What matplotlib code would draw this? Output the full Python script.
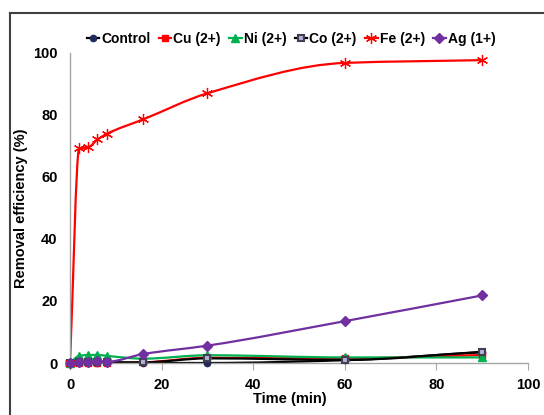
import numpy as np
import matplotlib
matplotlib.use("Agg")
import matplotlib.pyplot as plt
from matplotlib.path import Path
from matplotlib.patches import PathPatch
from matplotlib.lines import Line2D

plt.rcParams['font.family'] = ['Liberation Sans', 'DejaVu Sans']
plt.rcParams['font.weight'] = 'bold'

# ---- data ----
time = [0, 2, 4, 6, 8, 16, 30, 60, 90]
control = [0, 0, 0, 0, 0, 0, 0, 0.9, 3.5]
cu = [0, 0, 0, 0, 0, 0.2, 1.7, 1.5, 2.6]
ni = [0, 2.3, 2.6, 2.6, 2.3, 1.4, 2.5, 1.8, 1.8]
co = [0, 0.3, 0.3, 0.4, 0.3, 0.2, 1.5, 1.0, 3.6]
fe = [0, 69.2, 69.6, 72.1, 73.9, 78.6, 87.0, 96.8, 97.7]
ag = [0, 0.3, 0.4, 0.6, 0.4, 2.9, 5.6, 13.5, 21.8]

names = ['Control', 'Cu (2+)', 'Ni (2+)', 'Co (2+)', 'Fe (2+)', 'Ag (1+)']
series = [control, cu, ni, co, fe, ag]


def smooth_path(x, y):
    # monotone cubic (Fritsch-Carlson) drawn as bezier segments, like Excel's smoothed line
    x = np.asarray(x, float)
    y = np.asarray(y, float)
    h = np.diff(x)
    d = np.diff(y) / h
    m = np.zeros_like(y)
    m[0], m[-1] = d[0], d[-1]
    for k in range(1, len(x) - 1):
        if d[k - 1] * d[k] <= 0:
            m[k] = 0
        else:
            w1 = 2 * h[k] + h[k - 1]
            w2 = h[k] + 2 * h[k - 1]
            m[k] = (w1 + w2) / (w1 / d[k - 1] + w2 / d[k])
    verts = [(x[0], y[0])]
    codes = [Path.MOVETO]
    for k in range(len(x) - 1):
        verts += [(x[k] + h[k] / 3, y[k] + m[k] * h[k] / 3),
                  (x[k + 1] - h[k] / 3, y[k + 1] - m[k + 1] * h[k] / 3),
                  (x[k + 1], y[k + 1])]
        codes += [Path.CURVE4] * 3
    return Path(verts, codes)


fig = plt.figure(figsize=(5.44, 4.15), dpi=100)
ax = fig.add_axes([0.1287, 0.1253, 0.8419, 0.747])

styles = [
    dict(color='black', marker='o', mfc='#1f2a5a', mec='#1f2a5a', ms=4.5),
    dict(color='#ff0000', marker='s', mfc='#ff0000', mec='#ff0000', ms=4.5),
    dict(color='#00b050', marker='^', mfc='#00b050', mec='#00b050', ms=5.5),
    dict(color='black', marker='s', mfc='#b8b0d8', mec='#404050', ms=5, mew=1.5),
    dict(color='#ff0000', marker=(6, 2, 0), mfc='#ff0000', mec='#ff0000', ms=8, mew=0.9),
    dict(color='#7030a0', marker='D', mfc='#7030a0', mec='#7030a0', ms=5),
]

handles = []
for vals, st, name in zip(series, styles, names):
    ax.add_patch(PathPatch(smooth_path(time, vals), fill=False,
                           edgecolor=st['color'], lw=1.6, zorder=2))
    ax.plot(time, vals, linestyle='none', marker=st['marker'], ms=st['ms'],
            mfc=st['mfc'], mec=st['mec'], mew=st.get('mew', 1.0), zorder=3,
            clip_on=False)
    handles.append(Line2D([], [], color=st['color'], lw=1.6, marker=st['marker'],
                          ms=st['ms'], mfc=st['mfc'], mec=st['mec'],
                          mew=st.get('mew', 1.0)))

ax.set_xlim(0, 100)
ax.set_ylim(0, 100)
ax.set_xticks(np.arange(0, 101, 20))
ax.set_yticks(np.arange(0, 101, 20))
ax.spines['top'].set_visible(False)
ax.spines['right'].set_visible(False)
for s in ['left', 'bottom']:
    ax.spines[s].set_color('#a6a6a6')
    ax.spines[s].set_linewidth(1.0)
ax.tick_params(axis='x', direction='out', length=5, color='#a6a6a6', pad=6,
               labelsize=10.5)
ax.tick_params(axis='y', length=0, pad=9, labelsize=10.5)
ax.set_xlabel('Time (min)', fontsize=10.5, fontweight='bold')
ax.set_ylabel('Removal efficiency (%)', fontsize=10.5, fontweight='bold')
ax.xaxis.set_label_coords(0.48, -0.095)
ax.yaxis.set_label_coords(-0.092, 0.5)

fig.legend(handles, names, loc='center', bbox_to_anchor=(0.535, 0.907), ncol=6,
           frameon=False, fontsize=10, handlelength=0.9, handletextpad=0.15,
           columnspacing=0.6)

# outer chart frame (only left and top edges are inside the picture)
fig.add_artist(Line2D([10 / 544, 10 / 544], [0, 1 - 13 / 415], transform=fig.transFigure,
                      color='#404040', lw=1.5))
fig.add_artist(Line2D([10 / 544, 1], [1 - 13 / 415, 1 - 13 / 415], transform=fig.transFigure,
                      color='#404040', lw=1.5))

fig.savefig('out.png', dpi=100)
